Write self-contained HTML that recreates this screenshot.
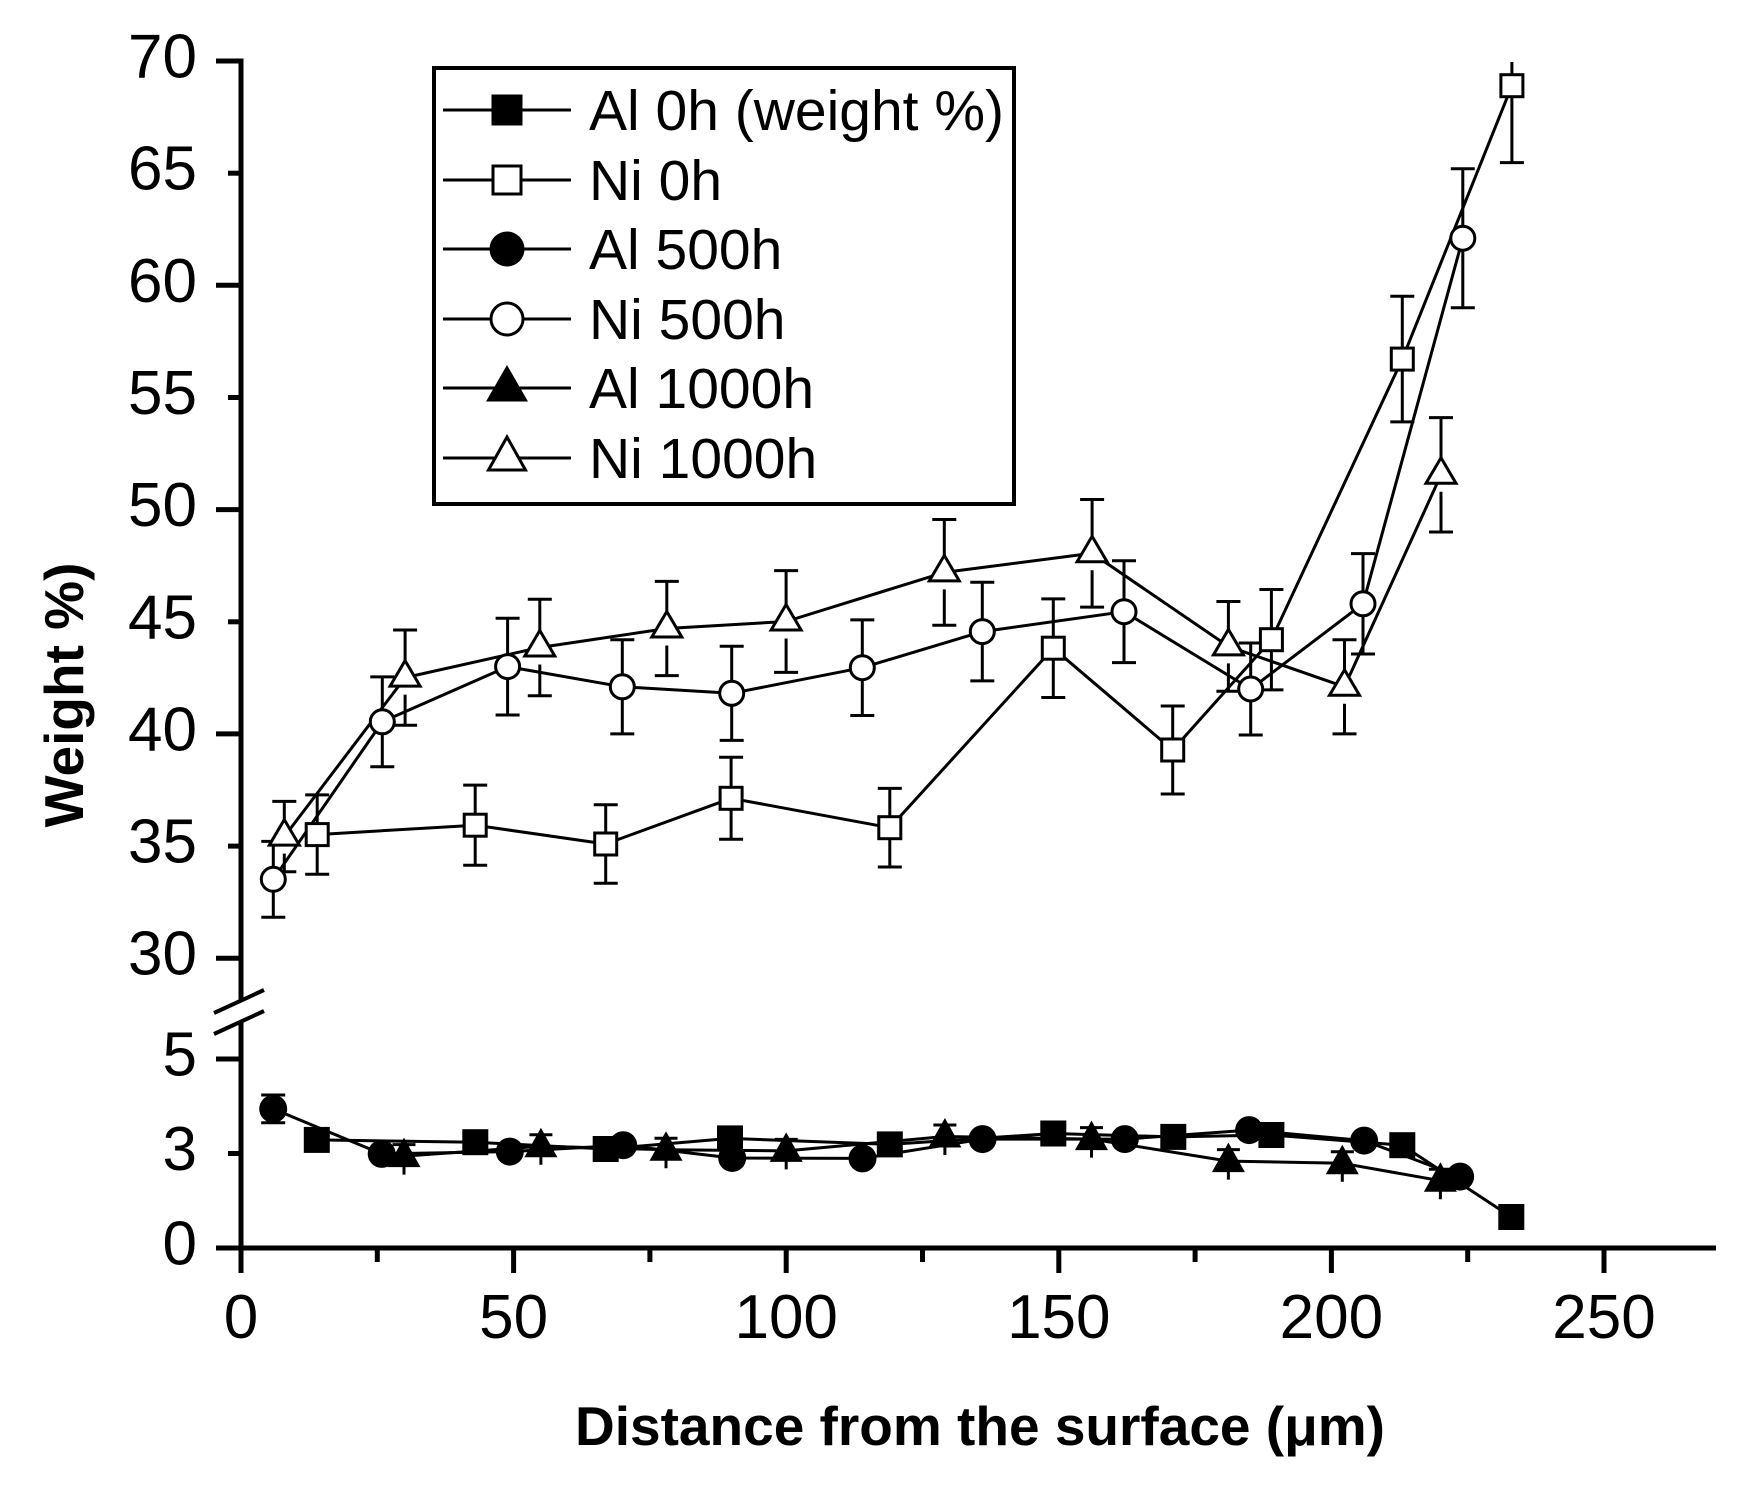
<!DOCTYPE html>
<html>
<head>
<meta charset="utf-8">
<style>
html,body{margin:0;padding:0;background:#fff;}
svg{display:block;}
text{font-family:"Liberation Sans",Arial,sans-serif;fill:#000;}
</style>
</head>
<body>
<svg width="1746" height="1490" viewBox="0 0 1746 1490" xmlns="http://www.w3.org/2000/svg">
<rect x="0" y="0" width="1746" height="1490" fill="#fff"/>

<!-- Axes -->
<g stroke="#000" stroke-width="5" fill="none" stroke-linecap="butt">
  <line x1="241" y1="58.5" x2="241" y2="1001"/>
  <line x1="241" y1="1021" x2="241" y2="1273"/>
  <line x1="216" y1="1248" x2="1716" y2="1248"/>
  <!-- y major ticks -->
  <line x1="216" y1="61" x2="243" y2="61"/>
  <line x1="216" y1="285.3" x2="241" y2="285.3"/>
  <line x1="216" y1="509.6" x2="241" y2="509.6"/>
  <line x1="216" y1="733.9" x2="241" y2="733.9"/>
  <line x1="216" y1="958.2" x2="241" y2="958.2"/>
  <line x1="216" y1="1059" x2="241" y2="1059"/>
  <!-- y minor ticks -->
  <line x1="228" y1="173.2" x2="241" y2="173.2"/>
  <line x1="228" y1="397.5" x2="241" y2="397.5"/>
  <line x1="228" y1="621.8" x2="241" y2="621.8"/>
  <line x1="228" y1="846.1" x2="241" y2="846.1"/>
  <line x1="228" y1="1153.5" x2="241" y2="1153.5"/>
  <!-- x major ticks -->
  <line x1="513.6" y1="1248" x2="513.6" y2="1273"/>
  <line x1="786.2" y1="1248" x2="786.2" y2="1273"/>
  <line x1="1058.8" y1="1248" x2="1058.8" y2="1273"/>
  <line x1="1331.4" y1="1248" x2="1331.4" y2="1273"/>
  <line x1="1604" y1="1248" x2="1604" y2="1273"/>
  <!-- x minor ticks -->
  <line x1="377.3" y1="1248" x2="377.3" y2="1262"/>
  <line x1="649.9" y1="1248" x2="649.9" y2="1262"/>
  <line x1="922.5" y1="1248" x2="922.5" y2="1262"/>
  <line x1="1195.1" y1="1248" x2="1195.1" y2="1262"/>
  <line x1="1467.7" y1="1248" x2="1467.7" y2="1262"/>
</g>
<!-- break marks -->
<g stroke="#000" stroke-width="4">
  <line x1="214" y1="1013" x2="264" y2="990"/>
  <line x1="214" y1="1034" x2="264" y2="1011"/>
</g>

<!-- Y tick labels -->
<g font-size="62" text-anchor="end">
  <text x="197" y="77.5">70</text>
  <text x="197" y="189.7">65</text>
  <text x="197" y="301.8">60</text>
  <text x="197" y="414">55</text>
  <text x="197" y="526.1">50</text>
  <text x="197" y="638.3">45</text>
  <text x="197" y="750.4">40</text>
  <text x="197" y="862.6">35</text>
  <text x="197" y="974.7">30</text>
  <text x="197" y="1075.5">5</text>
  <text x="197" y="1170">3</text>
  <text x="197" y="1264.5">0</text>
</g>
<!-- X tick labels -->
<g font-size="62" text-anchor="middle">
  <text x="241" y="1338">0</text>
  <text x="513.6" y="1338">50</text>
  <text x="786.2" y="1338">100</text>
  <text x="1058.8" y="1338">150</text>
  <text x="1331.4" y="1338">200</text>
  <text x="1604" y="1338">250</text>
</g>
<!-- Axis titles -->
<text x="980" y="1445" font-size="55" font-weight="bold" text-anchor="middle">Distance from the surface (μm)</text>
<text transform="translate(83,695) rotate(-90)" font-size="55" font-weight="bold" text-anchor="middle">Weight %)</text>

<!-- Data lines -->
<g stroke="#000" stroke-width="3" fill="none" stroke-linejoin="round">
  <polyline points="317.2,834.6 475.2,825.2 605.7,844.0 731.1,798.3 889.8,827.7 1053.3,648.2 1172.7,750.0 1271.4,639.7 1402.3,359.1 1511.9,85.7"/>
  <polyline points="273.3,879.3 382.3,721.8 507.6,666.6 622.3,686.8 731.7,693.3 862.3,667.7 982.3,631.6 1124.0,611.7 1250.7,689.0 1363.0,603.8 1462.8,238.2"/>
  <polyline points="284.3,836.6 405.1,677.6 539.8,647.5 666.8,628.5 786.1,621.5 944.3,572.4 1092.1,553.3 1228.4,646.4 1344.5,686.8 1441.0,474.8"/>
  <polyline points="316.8,1139.9 475.3,1142.2 605.7,1149.0 730.0,1138.4 889.8,1144.4 1053.3,1133.5 1173.3,1136.9 1271.4,1135.0 1402.3,1145.2 1511.3,1217.0"/>
  <polyline points="273.2,1108.9 381.7,1153.9 509.8,1151.6 623.2,1145.2 732.2,1158.0 862.5,1158.4 982.5,1139.1 1124.8,1139.1 1249.1,1130.1 1364.1,1140.6 1460.1,1176.6"/>
  <polyline points="404.0,1156.1 540.9,1146.3 666.0,1149.7 786.2,1150.9 944.9,1136.5 1091.5,1139.1 1228.4,1161.1 1342.3,1163.3 1440.4,1180.7"/>
</g>

<!-- Error bars -->
<g stroke="#000" stroke-width="3" fill="none">
  <!-- Ni 0h -->
  <path d="M317.2 794.9V874.3M305.2 794.9h24M305.2 874.3h24
           M475.2 785.1V865.3M463.2 785.1h24M463.2 865.3h24
           M605.7 804.7V883.3M593.7 804.7h24M593.7 883.3h24
           M731.1 757.3V839.3M719.1 757.3h24M719.1 839.3h24
           M889.8 788.4V867.0M877.8 788.4h24M877.8 867.0h24
           M1053.3 598.9V697.5M1041.3 598.9h24M1041.3 697.5h24
           M1172.7 706.0V794.0M1160.7 706.0h24M1160.7 794.0h24
           M1271.4 589.5V689.9M1259.4 589.5h24M1259.4 689.9h24
           M1402.3 296.3V421.9M1390.3 296.3h24M1390.3 421.9h24
           M1511.9 62V162.6M1499.9 162.6h24"/>
  <!-- Ni 500h -->
  <path d="M273.3 841.4V917.2M261.3 841.4h24M261.3 917.2h24
           M382.3 676.9V766.7M370.3 676.9h24M370.3 766.7h24
           M507.6 618.2V715.0M495.6 618.2h24M495.6 715.0h24
           M622.3 639.7V733.9M610.3 639.7h24M610.3 733.9h24
           M731.7 646.2V740.4M719.7 646.2h24M719.7 740.4h24
           M862.3 619.9V715.5M850.3 619.9h24M850.3 715.5h24
           M982.3 582.3V680.9M970.3 582.3h24M970.3 680.9h24
           M1124.0 560.8V662.6M1112.0 560.8h24M1112.0 662.6h24
           M1250.7 643.0V735.0M1238.7 643.0h24M1238.7 735.0h24
           M1363.0 553.6V654.0M1351.0 553.6h24M1351.0 654.0h24
           M1462.8 168.7V307.7M1450.8 168.7h24M1450.8 307.7h24"/>
  <!-- Ni 1000h -->
  <path d="M284.3 801.4V836.6M284.3 853.6V871.8M272.3 801.4h24M272.3 871.8h24
           M405.1 630.0V677.6M405.1 694.6V725.2M393.1 630.0h24M393.1 725.2h24
           M539.8 599.3V647.5M539.8 664.5V695.7M527.8 599.3h24M527.8 695.7h24
           M666.8 581.4V628.5M666.8 645.5V675.6M654.8 581.4h24M654.8 675.6h24
           M786.1 570.6V621.5M786.1 638.5V672.4M774.1 570.6h24M774.1 672.4h24
           M944.3 519.5V572.4M944.3 589.4V625.3M932.3 519.5h24M932.3 625.3h24
           M1092.1 499.5V553.3M1092.1 570.3V607.1M1080.1 499.5h24M1080.1 607.1h24
           M1228.4 601.5V646.4M1228.4 663.4V691.3M1216.4 601.5h24M1216.4 691.3h24
           M1344.5 639.7V686.8M1344.5 703.8V733.9M1332.5 639.7h24M1332.5 733.9h24
           M1441.0 417.6V474.8M1441.0 491.8V532.0M1429.0 417.6h24M1429.0 532.0h24"/>
  <!-- Al 500h first -->
  <path d="M273.2 1095V1122.7M261.2 1095h24M261.2 1122.7h24"/>
  <!-- Al 1000h -->
  <path d="M404.0 1144.6V1174.6M392.5 1144.6h23
           M540.9 1134.8V1164.8M529.4 1134.8h23
           M666.0 1138.2V1168.2M654.5 1138.2h23
           M786.2 1139.4V1169.4M774.7 1139.4h23
           M944.9 1125.0V1155.0M933.4 1125.0h23
           M1091.5 1127.6V1157.6M1080.0 1127.6h23
           M1228.4 1149.6V1179.6M1216.9 1149.6h23
           M1342.3 1151.8V1181.8M1330.8 1151.8h23
           M1440.4 1169.2V1199.2M1428.9 1169.2h23"/>
</g>

<!-- Open markers (Ni) -->
<g stroke="#000" stroke-width="3" fill="#fff">
  <!-- Ni 0h squares -->
  <rect x="306.2" y="823.6" width="22" height="22"/>
  <rect x="464.2" y="814.2" width="22" height="22"/>
  <rect x="594.7" y="833.0" width="22" height="22"/>
  <rect x="720.1" y="787.3" width="22" height="22"/>
  <rect x="878.8" y="816.7" width="22" height="22"/>
  <rect x="1042.3" y="637.2" width="22" height="22"/>
  <rect x="1161.7" y="739.0" width="22" height="22"/>
  <rect x="1260.4" y="628.7" width="22" height="22"/>
  <rect x="1391.3" y="348.1" width="22" height="22"/>
  <rect x="1500.9" y="74.7" width="22" height="22"/>
  <!-- Ni 500h circles -->
  <circle cx="273.3" cy="879.3" r="12"/>
  <circle cx="382.3" cy="721.8" r="12"/>
  <circle cx="507.6" cy="666.6" r="12"/>
  <circle cx="622.3" cy="686.8" r="12"/>
  <circle cx="731.7" cy="693.3" r="12"/>
  <circle cx="862.3" cy="667.7" r="12"/>
  <circle cx="982.3" cy="631.6" r="12"/>
  <circle cx="1124.0" cy="611.7" r="12"/>
  <circle cx="1250.7" cy="689.0" r="12"/>
  <circle cx="1363.0" cy="603.8" r="12"/>
  <circle cx="1462.8" cy="238.2" r="12"/>
  <!-- Ni 1000h triangles -->
  <path transform="translate(284.3,836.6)" d="M0 -17L15 8.5L-15 8.5Z"/>
  <path transform="translate(405.1,677.6)" d="M0 -17L15 8.5L-15 8.5Z"/>
  <path transform="translate(539.8,647.5)" d="M0 -17L15 8.5L-15 8.5Z"/>
  <path transform="translate(666.8,628.5)" d="M0 -17L15 8.5L-15 8.5Z"/>
  <path transform="translate(786.1,621.5)" d="M0 -17L15 8.5L-15 8.5Z"/>
  <path transform="translate(944.3,572.4)" d="M0 -17L15 8.5L-15 8.5Z"/>
  <path transform="translate(1092.1,553.3)" d="M0 -17L15 8.5L-15 8.5Z"/>
  <path transform="translate(1228.4,646.4)" d="M0 -17L15 8.5L-15 8.5Z"/>
  <path transform="translate(1344.5,686.8)" d="M0 -17L15 8.5L-15 8.5Z"/>
  <path transform="translate(1441.0,474.8)" d="M0 -17L15 8.5L-15 8.5Z"/>
</g>

<!-- Filled markers (Al) -->
<g fill="#000" stroke="none">
  <!-- Al 0h squares -->
  <rect x="303.8" y="1126.9" width="26" height="26"/>
  <rect x="462.3" y="1129.2" width="26" height="26"/>
  <rect x="592.7" y="1136.0" width="26" height="26"/>
  <rect x="717.0" y="1125.4" width="26" height="26"/>
  <rect x="876.8" y="1131.4" width="26" height="26"/>
  <rect x="1040.3" y="1120.5" width="26" height="26"/>
  <rect x="1160.3" y="1123.9" width="26" height="26"/>
  <rect x="1258.4" y="1122.0" width="26" height="26"/>
  <rect x="1389.3" y="1132.2" width="26" height="26"/>
  <rect x="1498.3" y="1204.0" width="26" height="26"/>
  <!-- Al 500h circles -->
  <circle cx="273.2" cy="1108.9" r="14"/>
  <circle cx="381.7" cy="1153.9" r="14"/>
  <circle cx="509.8" cy="1151.6" r="14"/>
  <circle cx="623.2" cy="1145.2" r="14"/>
  <circle cx="732.2" cy="1158.0" r="14"/>
  <circle cx="862.5" cy="1158.4" r="14"/>
  <circle cx="982.5" cy="1139.1" r="14"/>
  <circle cx="1124.8" cy="1139.1" r="14"/>
  <circle cx="1249.1" cy="1130.1" r="14"/>
  <circle cx="1364.1" cy="1140.6" r="14"/>
  <circle cx="1460.1" cy="1176.6" r="14"/>
  <!-- Al 1000h triangles -->
  <path transform="translate(404.0,1156.1)" d="M0 -18.5L16.5 11L-16.5 11Z"/>
  <path transform="translate(540.9,1146.3)" d="M0 -18.5L16.5 11L-16.5 11Z"/>
  <path transform="translate(666.0,1149.7)" d="M0 -18.5L16.5 11L-16.5 11Z"/>
  <path transform="translate(786.2,1150.9)" d="M0 -18.5L16.5 11L-16.5 11Z"/>
  <path transform="translate(944.9,1136.5)" d="M0 -18.5L16.5 11L-16.5 11Z"/>
  <path transform="translate(1091.5,1139.1)" d="M0 -18.5L16.5 11L-16.5 11Z"/>
  <path transform="translate(1228.4,1161.1)" d="M0 -18.5L16.5 11L-16.5 11Z"/>
  <path transform="translate(1342.3,1163.3)" d="M0 -18.5L16.5 11L-16.5 11Z"/>
  <path transform="translate(1440.4,1180.7)" d="M0 -18.5L16.5 11L-16.5 11Z"/>
</g>

<!-- Legend -->
<rect x="434" y="68" width="580" height="436" fill="#fff" stroke="#000" stroke-width="4"/>
<g stroke="#000" stroke-width="3">
  <line x1="443" y1="110" x2="571" y2="110"/>
  <line x1="443" y1="180" x2="571" y2="180"/>
  <line x1="443" y1="249" x2="571" y2="249"/>
  <line x1="443" y1="319" x2="571" y2="319"/>
  <line x1="443" y1="388" x2="571" y2="388"/>
  <line x1="443" y1="458" x2="571" y2="458"/>
</g>
<g>
  <rect x="491.5" y="94.5" width="31" height="31" fill="#000"/>
  <rect x="493" y="166" width="28" height="28" fill="#fff" stroke="#000" stroke-width="3"/>
  <circle cx="507" cy="249" r="17.5" fill="#000"/>
  <circle cx="507" cy="319" r="16" fill="#fff" stroke="#000" stroke-width="3"/>
  <path transform="translate(507,388)" d="M0 -23L21 13.5L-21 13.5Z" fill="#000"/>
  <path transform="translate(507,458)" d="M0 -21L18.5 12L-18.5 12Z" fill="#fff" stroke="#000" stroke-width="3"/>
</g>
<g font-size="57">
  <text x="589" y="130">Al 0h (weight %)</text>
  <text x="589" y="200">Ni 0h</text>
  <text x="589" y="269">Al 500h</text>
  <text x="589" y="339">Ni 500h</text>
  <text x="589" y="408">Al 1000h</text>
  <text x="589" y="478">Ni 1000h</text>
</g>
</svg>
</body>
</html>
